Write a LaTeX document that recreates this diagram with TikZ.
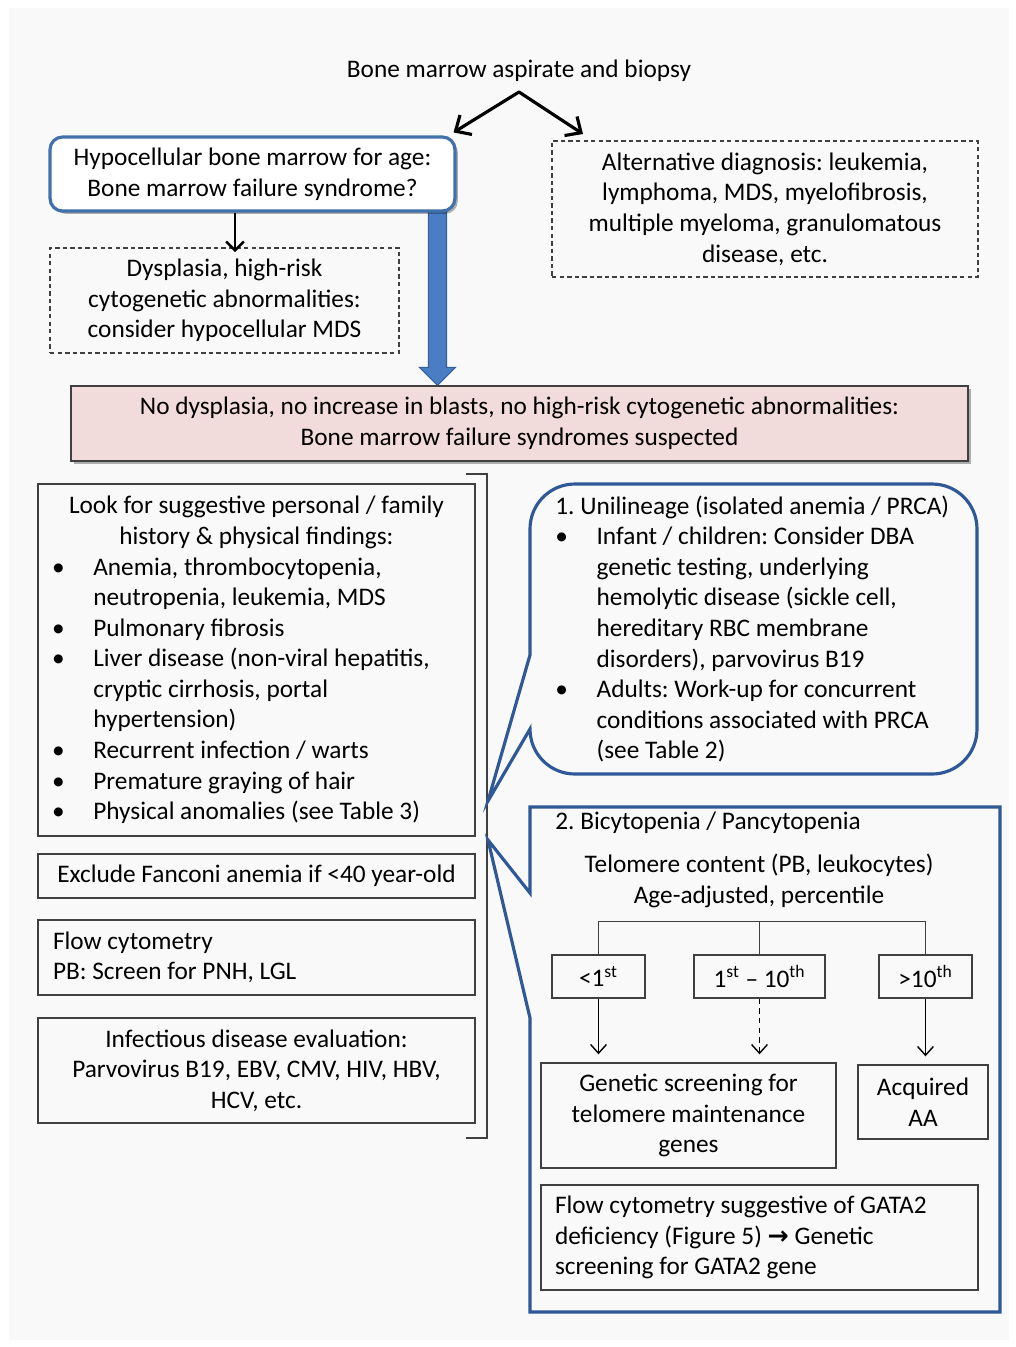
\documentclass[tikz,border=0pt]{standalone}
\usepackage{fontspec}
\setmainfont{Carlito}
\newfontfamily\symf{DejaVu Sans}
\usepackage{tikz}
\usetikzlibrary{calc,positioning,arrows.meta,shadows,backgrounds}
\definecolor{bgc}{RGB}{249,249,249}
\definecolor{boxblue}{RGB}{65,113,170}
\definecolor{callblue}{RGB}{46,88,150}
\definecolor{arrowblue}{RGB}{74,126,196}
\definecolor{arrowedge}{RGB}{52,96,160}
\definecolor{pinkfill}{RGB}{242,220,219}
\definecolor{boxline}{RGB}{64,64,64}
\newcommand{\fs}{\fontsize{14.4}{17.4}\selectfont\frenchspacing}
\newcommand{\bul}{\makebox[23.5pt][l]{\textbullet}}
\newcommand{\ind}{\hspace*{23.5pt}}
\newcommand{\ctr}[1]{\makebox[\linewidth][c]{#1}}

\begin{document}
\begin{tikzpicture}[x=0.02cm,y=-0.02cm]
\tikzstyle{every node} = [font=\fs, inner sep=0pt];
\tikzstyle{plain} = [draw=boxline, line width=0.8pt, align=center];
\tikzstyle{dashbox} = [plain, dash pattern=on 2.5pt off 1.8pt];
\tikzstyle{shade} = [drop shadow={shadow xshift=1.6pt, shadow yshift=-1.6pt, opacity=0.3, fill=black}];
\tikzstyle{callout} = [draw=callblue, line width=1.8pt];
\tikzstyle{bigarr} = [line width=1.8pt, line cap=round, -{Straight Barb[length=7pt,width=13pt]}];
\tikzstyle{arr} = [draw=black, line width=0.8pt, shorten >=0.16cm, -{Straight Barb[length=5pt,width=9pt]}];
\useasboundingbox (0,0) rectangle (1016,1347);

% top part
\node (title) at (519,71) {Bone marrow aspirate and biopsy};
\coordinate (apex) at (519,92);
\coordinate (altin) at (583,134);
\coordinate (dysin) at (235,252);
\node[draw=boxblue, line width=1.8pt, rounded corners=0.25cm, fill=white, shade,
      minimum width=8.1cm, minimum height=1.48cm, align=center] (hypo) at (252.5,174)
      {Hypocellular bone marrow for age:\\Bone marrow failure syndrome?};
\node[dashbox, minimum width=6.98cm, minimum height=2.1cm] (dys) at (224.5,300.5)
      {Dysplasia, high-risk\\cytogenetic abnormalities:\\consider hypocellular MDS};
\node[dashbox, minimum width=8.52cm, minimum height=2.72cm] (alt) at (765,209)
      {Alternative diagnosis: leukemia,\\lymphoma, MDS, myelofibrosis,\\multiple myeloma, granulomatous\\disease, etc.};
\node[plain, fill=pinkfill, shade, minimum width=17.94cm, minimum height=1.5cm] (susp) at (519.5,423.5)
      {No dysplasia, no increase in blasts, no high-risk cytogenetic abnormalities:\\Bone marrow failure syndromes suspected};
\draw[bigarr] (apex) -- ([shift={(-3,-3)}]hypo.north east);
\draw[bigarr] (apex) -- (altin);
\draw[line width=1.4pt, -{Straight Barb[length=5pt,width=10pt]}] (hypo.south -| dysin) -- (dysin);

% left column
\node[plain, align=flush left, text width=8.18cm, minimum width=8.74cm, minimum height=7.04cm] (look) at (256.5,660)
      {\ctr{Look for suggestive personal / family}\\
       \ctr{history \& physical findings:}\\
       \bul Anemia, thrombocytopenia,\\
       \ind neutropenia, leukemia, MDS\\
       \bul Pulmonary fibrosis\\
       \bul Liver disease (non-viral hepatitis,\\
       \ind cryptic cirrhosis, portal\\
       \ind hypertension)\\
       \bul Recurrent infection / warts\\
       \bul Premature graying of hair\\
       \bul Physical anomalies (see Table 3)};
\node[plain, minimum width=8.74cm, minimum height=0.88cm] (fanc) at (256.5,876)
      {Exclude Fanconi anemia if <40 year-old};
\node[plain, align=flush left, text width=8.14cm, minimum width=8.74cm, minimum height=1.5cm] (flow) at (256.5,957.5)
      {Flow cytometry\\PB: Screen for PNH, LGL};
\node[plain, minimum width=8.74cm, minimum height=2.1cm] (infec) at (256.5,1070.5)
      {Infectious disease evaluation:\\Parvovirus B19, EBV, CMV, HIV, HBV,\\HCV, etc.};
\coordinate (brT) at (487,474);
\coordinate (brB) at (487,1138);
\draw[boxline, line width=0.8pt] ($(brT)+(-21,0)$) -- (brT) -- (brB) -- ($(brB)+(-21,0)$);

% callout 1
\coordinate (tip1) at (488,801);
\draw[callout] (530,655) -- (530,529) .. controls (530,504) and (550,484) .. (575,484)
      -- (932,484) .. controls (957,484) and (977,504) .. (977,529)
      -- (977,729) .. controls (977,754) and (957,774) .. (932,774)
      -- (575,774) .. controls (550,774) and (530,754) .. (530,729) -- (tip1) -- cycle;
\node[anchor=west, align=flush left, text width=8.2cm] (uni) at (555,629)
      {1. Unilineage (isolated anemia / PRCA)\\
       \bul Infant / children: Consider DBA\\
       \ind genetic testing, underlying\\
       \ind hemolytic disease (sickle cell,\\
       \ind hereditary RBC membrane\\
       \ind disorders), parvovirus B19\\
       \bul Adults: Work-up for concurrent\\
       \ind conditions associated with PRCA\\
       \ind (see Table 2)};

% callout 2
\coordinate (tip2) at (488,840);
\draw[callout] (530,893) -- (530,807) -- (1000,807) -- (1000,1312) -- (530,1312) -- (530,1018) -- (tip2) -- cycle;
\node[anchor=west] (bic) at (555,823) {2. Bicytopenia / Pancytopenia};
\node[align=center] (telo) at (759,881) {Telomere content (PB, leukocytes)\\Age-adjusted, percentile};
\node[plain, minimum width=1.86cm, minimum height=0.86cm] (lt1) at (598.5,976.5) {<1\textsuperscript{st}};
\node[plain, minimum width=2.62cm, minimum height=0.86cm] (mid) at (759.5,976.5) {1\textsuperscript{st} -- 10\textsuperscript{th}};
\node[plain, minimum width=1.86cm, minimum height=0.86cm] (gt10) at (925.5,976.5) {>10\textsuperscript{th}};
\node[plain, minimum width=5.9cm, minimum height=2.1cm] (gen) at (688.5,1115.5)
      {Genetic screening for\\telomere maintenance\\genes};
\node[plain, minimum width=2.6cm, minimum height=1.48cm] (acq) at (923,1102) {Acquired\\AA};
\node[plain, align=flush left, text width=8.18cm, minimum width=8.74cm, minimum height=2.1cm] (gata) at (759.5,1237.5)
      {Flow cytometry suggestive of GATA2\\deficiency (Figure 5) {\symf\bfseries →} Genetic\\screening for GATA2 gene};
\draw[boxline, line width=0.8pt] (lt1.north) -- ++(0,-33) -| (gt10.north);
\draw[boxline, line width=0.8pt] (mid.north) -- ++(0,-33);
\draw[arr] (lt1.south) -- (lt1.south |- gen.north);
\draw[arr, dash pattern=on 3pt off 2.5pt] (mid.south) -- (mid.south |- gen.north);
\draw[arr] (gt10.south) -- (gt10.south |- acq.north);

% background and thick blue arrow
\begin{scope}[on background layer]
\fill[bgc] (9,8) rectangle (1009,1340);
\coordinate (bs) at (437.5,205);
\coordinate (be) at (susp.north -| bs);
\filldraw[fill=arrowblue, draw=arrowedge, line width=0.6pt] ($(bs)+(-9,0)$) -- ($(be)+(-9,-18)$) -- ($(be)+(-18,-18)$)
      -- (be) -- ($(be)+(18,-18)$) -- ($(be)+(9,-18)$) -- ($(bs)+(9,0)$) -- cycle;
\end{scope}
\end{tikzpicture}
\end{document}
